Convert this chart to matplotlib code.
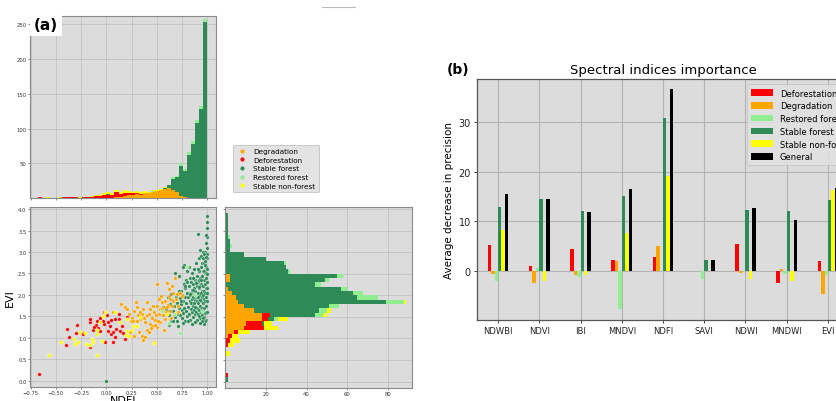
import numpy as np
import matplotlib
matplotlib.use("Agg")
import matplotlib.pyplot as plt
from matplotlib.lines import Line2D
from matplotlib.patches import Patch

# ---------------- Panel (b) data ----------------
categories = ['NDWBI', 'NDVI', 'IBI', 'MNDVI', 'NDFI', 'SAVI', 'NDWI', 'MNDWI', 'EVI']
deforestation = [5.2, 1.0, 4.4, 2.3, 2.8, 0.0, 5.5, -2.3, 2.1]
degradation = [-0.5, -2.3, -0.8, 2.1, 5.0, 0.0, -0.3, 0.5, -4.5]
restored = [-2.0, 0.7, -1.1, -7.5, 0.0, -1.5, 0.0, -0.5, -0.8]
stable_forest = [12.9, 14.6, 12.0, 15.1, 30.8, 2.3, 12.2, 12.0, 14.4]
stable_nonforest = [8.2, -2.0, -0.7, 7.7, 19.1, 0.0, -1.5, -2.0, 16.4]
general = [15.6, 14.5, 11.9, 16.5, 36.5, 2.3, 12.7, 10.3, 16.7]

# ---------------- Panel (a) data ----------------
class_names = ['Degradation', 'Deforestation', 'Stable forest', 'Restored forest', 'Stable non-forest']
class_colors = ['#ffa500', '#ff0000', '#2e8b57', '#90ee90', '#ffff00']

# NDFI histogram (bins of 0.04 from -0.68 to 1.00), counts per class
ndfi_bin_centers = [-0.66, -0.62, -0.58, -0.54, -0.50, -0.46, -0.42, -0.38, -0.34, -0.30,
                    -0.26, -0.22, -0.18, -0.14, -0.10, -0.06, -0.02, 0.02, 0.06, 0.10,
                    0.14, 0.18, 0.22, 0.26, 0.30, 0.34, 0.38, 0.42, 0.46, 0.50,
                    0.54, 0.58, 0.62, 0.66, 0.70, 0.74, 0.78, 0.82, 0.86, 0.90,
                    0.94, 0.98]
ndfi_degradation = [0, 0, 0, 0, 0, 0, 0, 0, 0, 0,
                    0, 0, 0, 0, 0, 0, 0, 0, 0, 1,
                    2, 3, 4, 5, 6, 5, 7, 7, 9, 10,
                    11, 13, 14, 12, 8, 3, 1, 0, 0, 0,
                    0, 0]
ndfi_deforestation = [1, 0, 0, 0, 0, 0, 2, 1, 1, 2,
                      0, 1, 2, 2, 3, 3, 4, 5, 4, 8,
                      4, 4, 3, 2, 1, 1, 0, 0, 0, 0,
                      0, 0, 0, 0, 0, 0, 0, 0, 0, 0,
                      0, 0]
ndfi_stable_forest = [0, 0, 0, 0, 0, 0, 0, 0, 0, 0,
                      0, 0, 0, 0, 0, 0, 0, 1, 0, 0,
                      0, 0, 0, 0, 0, 0, 0, 0, 0, 0,
                      1, 2, 4, 16, 22, 43, 38, 62, 78, 108,
                      128, 254]
ndfi_restored = [0, 0, 0, 0, 0, 0, 0, 0, 0, 0,
                 0, 0, 0, 0, 0, 0, 0, 0, 0, 0,
                 0, 0, 0, 0, 0, 0, 0, 0, 1, 0,
                 0, 0, 1, 2, 2, 4, 3, 4, 4, 5,
                 5, 4]
ndfi_stable_nonforest = [0, 0, 1, 0, 0, 1, 0, 0, 1, 0,
                         1, 0, 0, 1, 2, 2, 3, 2, 3, 2,
                         3, 4, 3, 2, 3, 2, 3, 2, 1, 2,
                         1, 1, 0, 0, 0, 0, 0, 0, 0, 0,
                         0, 0]

# EVI histogram (bins of 0.1 from 0.0 to 3.9), counts per class
evi_bin_centers = [0.05, 0.15, 0.25, 0.35, 0.45, 0.55, 0.65, 0.75, 0.85, 0.95,
                   1.05, 1.15, 1.25, 1.35, 1.45, 1.55, 1.65, 1.75, 1.85, 1.95,
                   2.05, 2.15, 2.25, 2.35, 2.45, 2.55, 2.65, 2.75, 2.85, 2.95,
                   3.05, 3.15, 3.25, 3.35, 3.45, 3.55, 3.65, 3.75, 3.85]
evi_degradation = [0, 0, 0, 0, 0, 0, 0, 0, 0, 0,
                   1, 4, 9, 10, 18, 18, 14, 9, 6, 5,
                   3, 1, 0, 2, 2, 0, 0, 0, 0, 0,
                   0, 0, 0, 0, 0, 0, 0, 0, 0]
evi_deforestation = [0, 1, 0, 0, 0, 0, 0, 0, 1, 2,
                     2, 2, 10, 8, 3, 4, 0, 0, 0, 0,
                     0, 0, 0, 0, 0, 0, 0, 0, 0, 0,
                     0, 0, 0, 0, 0, 0, 0, 0, 0]
evi_stable_forest = [1, 0, 0, 0, 0, 0, 0, 0, 0, 0,
                     0, 0, 0, 1, 3, 22, 32, 42, 73, 60,
                     60, 56, 44, 47, 53, 31, 30, 29, 20, 9,
                     2, 2, 2, 1, 1, 1, 1, 1, 1]
evi_restored = [0, 0, 0, 0, 0, 0, 0, 0, 0, 0,
                0, 0, 0, 0, 2, 4, 4, 5, 9, 10,
                5, 3, 3, 2, 3, 1, 0, 1, 0, 0,
                0, 1, 0, 1, 0, 0, 0, 0, 0]
evi_stable_nonforest = [0, 0, 0, 0, 0, 0, 2, 0, 3, 5,
                        3, 6, 7, 4, 5, 2, 2, 0, 1, 0,
                        0, 0, 0, 0, 0, 0, 0, 0, 0, 0,
                        0, 0, 0, 0, 0, 0, 0, 0, 0]

# Scatter points (NDFI, EVI) per class
deg_x = [0.07, 0.18, 0.22, 0.25, 0.27, 0.29, 0.30, 0.31, 0.33, 0.35, 0.36, 0.38, 0.40, 0.40,
         0.42, 0.43, 0.45, 0.45, 0.47, 0.47, 0.48, 0.50, 0.50, 0.52, 0.52, 0.53, 0.53, 0.54,
         0.55, 0.56, 0.57, 0.57, 0.58, 0.59, 0.60, 0.61, 0.62, 0.63, 0.63, 0.64, 0.65, 0.66,
         0.66, 0.67, 0.68, 0.69, 0.70, 0.71, 0.73, 0.75, 0.71, 0.14, 0.20, 0.24, 0.32, 0.35,
         0.36, 0.38, 0.43, 0.46, 0.49, 0.51, 0.55, 0.58, 0.62, 0.65, 0.50, 0.40, 0.33, 0.42,
         0.26, 0.23, 0.27, 0.44, 0.37, 0.30, 0.48, 0.56, 0.60]
deg_y = [1.59, 1.71, 1.55, 1.47, 1.63, 1.83, 1.71, 1.53, 1.44, 1.55, 1.67, 1.36, 1.52, 1.17,
         1.13, 1.32, 1.28, 1.47, 0.90, 1.59, 1.42, 1.75, 1.24, 1.90, 1.55, 1.36, 1.67, 1.98,
         1.83, 1.52, 1.71, 1.17, 1.86, 1.59, 2.28, 1.77, 1.98, 1.63, 1.90, 1.47, 1.75, 2.05,
         1.86, 1.55, 2.39, 1.90, 2.01, 1.75, 2.04, 1.98, 1.59, 1.78, 1.67, 1.40, 1.13, 1.05,
         0.94, 1.01, 1.67, 1.75, 1.52, 1.40, 1.67, 1.44, 2.13, 2.21, 2.25, 1.83, 1.59, 1.55,
         1.40, 1.13, 1.05, 1.22, 1.46, 1.38, 1.30, 1.62, 1.72]

def_x = [-0.67, -0.39, -0.40, -0.37, -0.29, -0.30, -0.24, -0.23, -0.16, -0.16, -0.13, -0.10,
         -0.08, -0.06, -0.02, -0.02, -0.01, 0.01, 0.02, 0.04, 0.05, 0.07, 0.09, 0.10, 0.12,
         0.13, 0.15, 0.18, 0.20, 0.22, 0.02, -0.03, -0.06, 0.07, 0.12, 0.25, -0.09, -0.16,
         0.05, 0.16, -0.12, 0.09]
def_y = [0.16, 1.20, 0.82, 1.01, 1.30, 1.12, 1.11, 1.09, 1.36, 0.78, 1.18, 1.30,
         1.22, 1.15, 1.33, 1.59, 0.89, 1.52, 1.36, 1.28, 1.09, 0.89, 1.44, 1.20, 1.44,
         1.16, 1.28, 0.97, 1.48, 1.05, 1.16, 1.40, 1.47, 1.14, 1.55, 1.17, 1.40, 1.44,
         1.42, 1.10, 1.25, 1.02]

snf_x = [-0.57, -0.45, -0.32, -0.31, -0.28, -0.20, -0.16, -0.13, -0.09, -0.09, -0.14, -0.06,
         -0.04, -0.01, 0.09, -0.09, -0.21, 0.19, 0.22, 0.25, 0.20, 0.13, 0.47, -0.03, 0.20,
         0.30, 0.26, 0.33, 0.60, -0.26]
snf_y = [0.60, 0.89, 0.97, 0.86, 0.90, 0.86, 0.82, 0.90, 0.60, 1.09, 0.98, 1.36,
         0.93, 1.61, 1.59, 1.17, 1.12, 1.07, 1.05, 1.18, 1.16, 1.36, 0.88, 1.51, 1.44,
         1.28, 1.28, 1.48, 1.55, 1.14]

rf_x = [0.73, 0.55, 0.68, 0.80, 0.88, 0.95, 0.62]
rf_y = [1.12, 1.62, 1.55, 2.65, 2.00, 1.62, 1.35]

sf_x = [0.00,
        0.56, 0.58, 0.60, 0.61, 0.62, 0.63, 0.64, 0.65, 0.59, 0.62, 0.64, 0.66, 0.67, 0.68, 0.69,
        0.70, 0.70, 0.71, 0.72, 0.72, 0.73, 0.73, 0.74, 0.74, 0.75, 0.75, 0.75, 0.71, 0.72,
        0.76, 0.76, 0.77, 0.77, 0.78, 0.78, 0.78, 0.79, 0.79, 0.80, 0.80, 0.80, 0.77, 0.79, 0.76,
        0.81, 0.81, 0.82, 0.82, 0.82, 0.83, 0.83, 0.83, 0.84, 0.84, 0.84, 0.85, 0.85, 0.85, 0.85,
        0.81, 0.83, 0.84,
        0.86, 0.86, 0.86, 0.87, 0.87, 0.87, 0.88, 0.88, 0.88, 0.88, 0.89, 0.89, 0.89, 0.90, 0.90,
        0.90, 0.90, 0.86, 0.87, 0.88, 0.89, 0.90, 0.86, 0.89, 0.87,
        0.91, 0.91, 0.91, 0.91, 0.92, 0.92, 0.92, 0.92, 0.93, 0.93, 0.93, 0.93, 0.94, 0.94, 0.94,
        0.94, 0.95, 0.95, 0.95, 0.95, 0.92, 0.93, 0.94, 0.91, 0.95, 0.92, 0.93, 0.94, 0.91, 0.95,
        0.92, 0.93, 0.91,
        0.96, 0.96, 0.96, 0.96, 0.96, 0.97, 0.97, 0.97, 0.97, 0.97, 0.98, 0.98, 0.98, 0.98, 0.98,
        0.98, 0.99, 0.99, 0.99, 0.99, 0.99, 0.99, 1.00, 1.00, 1.00, 1.00, 1.00, 1.00, 1.00, 1.00,
        1.00, 1.00, 1.00, 0.99, 0.98, 0.97, 0.96, 0.96, 0.76, 0.68, 0.87, 0.97, 0.99, 1.00,
        0.98, 0.97, 0.99, 1.00, 0.96, 0.95, 0.93, 0.90, 0.88, 0.85, 0.97, 0.98, 0.99, 1.00,
        0.94, 0.92, 0.89, 0.86, 0.83, 0.80, 0.78, 0.74, 0.70, 0.66]
sf_y = [0.00,
        1.72, 1.85, 1.62, 1.95, 1.52, 1.78, 1.40, 1.88, 1.68, 1.30, 2.02, 1.62, 1.74, 1.48, 1.95,
        1.38, 1.82, 1.60, 2.45, 1.70, 1.92, 1.52, 2.10, 1.78, 1.45, 1.65, 2.00, 1.28, 2.08,
        1.58, 1.85, 2.25, 1.70, 1.40, 1.95, 2.15, 1.62, 1.80, 2.05, 1.50, 2.55, 2.70, 2.35, 1.35,
        1.72, 1.95, 2.20, 1.55, 2.65, 1.85, 2.40, 1.42, 2.05, 1.68, 2.30, 1.90, 1.60, 2.50, 2.12,
        1.38, 2.00, 1.80,
        1.75, 2.25, 1.48, 2.00, 2.60, 1.65, 1.88, 2.35, 2.10, 1.55, 2.75, 1.95, 1.40, 2.20, 1.70,
        2.45, 1.85, 1.95, 2.15, 1.72, 2.30, 2.00, 2.40, 1.60, 1.82,
        1.80, 2.30, 1.55, 2.05, 2.55, 1.90, 1.65, 2.15, 2.40, 1.75, 2.00, 1.45, 2.65, 2.25, 1.85,
        1.60, 2.10, 2.45, 1.95, 1.70, 2.85, 3.05, 2.90, 2.60, 2.75, 1.50, 2.20, 2.05, 1.95, 1.52,
        2.35, 1.88, 3.42,
        1.80, 2.20, 2.55, 1.62, 2.00, 2.35, 1.90, 2.75, 1.70, 2.10, 2.50, 1.85, 2.25, 3.00, 1.58,
        2.05, 2.65, 2.15, 1.95, 2.40, 3.20, 1.75, 2.30, 2.60, 2.85, 3.10, 3.35, 3.55, 3.70, 3.85,
        2.05, 1.85, 2.95, 3.40, 2.80, 2.55, 2.85, 3.00, 2.64, 2.52, 2.61, 1.48, 1.42, 1.60,
        1.38, 1.32, 2.50, 2.15, 1.45, 1.40, 1.35, 1.42, 1.36, 1.32, 2.95, 2.70, 2.88, 2.48,
        2.35, 2.18, 2.28, 2.12, 2.02, 2.30, 2.20, 1.85, 1.55, 1.40]

# ---------------- Figure ----------------
W, H = 837, 402
fig = plt.figure(figsize=(W / 100, H / 100), dpi=100)
bg = '#dcdcdc'
gridc = '#c2c2c2'
spc = '#8a8a8a'

def fax(l, t, r, b):
    return [l / W, 1 - b / H, (r - l) / W, (b - t) / H]

def style(ax):
    ax.set_facecolor(bg)
    ax.grid(True, color=gridc, lw=0.6)
    ax.set_axisbelow(True)
    for s in ax.spines.values():
        s.set_color(spc)
        s.set_linewidth(0.8)
    ax.tick_params(labelsize=3.8, length=1.5, width=0.4, pad=1, colors='#333333')

# scatter
ax_sc = fig.add_axes(fax(30, 208, 216, 388))
style(ax_sc)
sc_kw = dict(s=7, edgecolors='white', linewidths=0.25)
ax_sc.scatter(sf_x, sf_y, color=class_colors[2], zorder=3, **sc_kw)
ax_sc.scatter(deg_x, deg_y, color=class_colors[0], zorder=3, **sc_kw)
ax_sc.scatter(def_x, def_y, color=class_colors[1], zorder=3, **sc_kw)
ax_sc.scatter(rf_x, rf_y, color=class_colors[3], zorder=3, **sc_kw)
ax_sc.scatter(snf_x, snf_y, color=class_colors[4], zorder=3, **sc_kw)
ax_sc.set_xlim(-0.757, 1.086)
ax_sc.set_ylim(-0.15, 4.05)
ax_sc.set_xticks([-0.75, -0.5, -0.25, 0.0, 0.25, 0.5, 0.75, 1.0])
ax_sc.set_xticklabels(['\u22120.75', '\u22120.50', '\u22120.25', '0.00', '0.25', '0.50', '0.75', '1.00'])
ax_sc.set_yticks([0.0, 0.5, 1.0, 1.5, 2.0, 2.5, 3.0, 3.5, 4.0])
ax_sc.set_ylabel('EVI', fontsize=8, labelpad=2)
ax_sc.set_xlabel('NDFI', fontsize=8, labelpad=0)

# top histogram
ax_top = fig.add_axes(fax(30, 17, 216, 199))
style(ax_top)
hist_top = [ndfi_degradation, ndfi_deforestation, ndfi_stable_forest, ndfi_restored, ndfi_stable_nonforest]
bottom = np.zeros(len(ndfi_bin_centers))
for counts, col in zip(hist_top, class_colors):
    ax_top.bar(ndfi_bin_centers, counts, width=0.04, bottom=bottom, color=col, linewidth=0, zorder=2)
    bottom = bottom + np.array(counts)
ax_top.set_xlim(-0.757, 1.086)
ax_top.set_ylim(0, 262)
ax_top.set_xticks([-0.75, -0.5, -0.25, 0.0, 0.25, 0.5, 0.75, 1.0])
ax_top.set_yticks([50, 100, 150, 200, 250])
ax_top.tick_params(labelbottom=False)

# right histogram
ax_rt = fig.add_axes(fax(225.5, 208, 412, 389))
style(ax_rt)
hist_rt = [evi_degradation, evi_deforestation, evi_stable_forest, evi_restored, evi_stable_nonforest]
left = np.zeros(len(evi_bin_centers))
for counts, col in zip(hist_rt, class_colors):
    ax_rt.barh(evi_bin_centers, counts, height=0.1, left=left, color=col, linewidth=0, zorder=2)
    left = left + np.array(counts)
ax_rt.set_xlim(0, 92)
ax_rt.set_ylim(-0.15, 4.05)
ax_rt.set_xticks([20, 40, 60, 80])
ax_rt.set_yticks([0.0, 0.5, 1.0, 1.5, 2.0, 2.5, 3.0, 3.5, 4.0])
ax_rt.tick_params(labelleft=False)

# legend (a)
handles_a = [Line2D([0], [0], marker='o', linestyle='', markersize=3,
                    markerfacecolor=c, markeredgecolor='none') for c in class_colors]
leg_a = fig.legend(handles_a, class_names, loc='upper left',
                   bbox_to_anchor=(229 / W, 1 - 142 / H), fontsize=5.2,
                   frameon=True, fancybox=True, borderpad=0.5, labelspacing=0.35,
                   handletextpad=0.8, handlelength=1.5)
leg_a.get_frame().set_facecolor('#dcdcdc')
leg_a.get_frame().set_edgecolor('#aaaaaa')
leg_a.get_frame().set_linewidth(0.5)

# (a) label
fig.text(34 / W, 1 - 26 / H, '(a)', fontsize=11, fontweight='bold', va='center', ha='left',
         bbox=dict(facecolor='white', edgecolor='none', pad=2.5))

# small grey line at top
fig.add_artist(Line2D([322 / W, 355 / W], [1 - 8 / H, 1 - 8 / H], color='#bbbbbb', lw=0.8))

# ---------------- Panel (b) ----------------
ax_b = fig.add_axes(fax(477, 80, 849, 321))
ax_b.set_facecolor(bg)
ax_b.grid(True, color='#b4b4b4', lw=0.8)
ax_b.set_axisbelow(True)
for s in ax_b.spines.values():
    s.set_color('#555555')
    s.set_linewidth(0.9)

x = np.arange(len(categories))
w = 0.083
series = [deforestation, degradation, restored, stable_forest, stable_nonforest, general]
names_b = ['Deforestation', 'Degradation', 'Restored forest', 'Stable forest', 'Stable non-forest', 'General']
colors_b = ['#ff0000', '#ffa500', '#90ee90', '#2e8b57', '#ffff00', '#000000']
for k, (vals, col, nm) in enumerate(zip(series, colors_b, names_b)):
    ax_b.bar(x + (k - 3) * w, vals, width=w, align='edge', color=col, label=nm, linewidth=0, zorder=2)

ax_b.set_xlim(-0.51, len(categories) - 0.49)
ax_b.set_ylim(-9.8, 38.6)
ax_b.set_xticks(x)
ax_b.set_xticklabels(categories)
ax_b.set_yticks([0, 10, 20, 30])
ax_b.tick_params(axis='x', labelsize=6, length=2.5, width=0.6, pad=2, colors='#222222')
ax_b.tick_params(axis='y', labelsize=7, length=2.5, width=0.6, pad=2, colors='#222222')
ax_b.set_ylabel('Average decrease in precision', fontsize=7.5, labelpad=3)
ax_b.set_title('Spectral indices importance', fontsize=9.5, pad=4)

leg_b = ax_b.legend(loc='upper left', bbox_to_anchor=(0.715, 0.995), fontsize=6,
                    frameon=True, fancybox=True, borderpad=0.5, labelspacing=0.45,
                    handlelength=2.6, handleheight=0.8, handletextpad=0.8)
leg_b.get_frame().set_facecolor('#e2e2e2')
leg_b.get_frame().set_edgecolor('#bbbbbb')
leg_b.get_frame().set_linewidth(0.5)

fig.text(447 / W, 1 - 70 / H, '(b)', fontsize=10, fontweight='bold', va='center', ha='left')

fig.savefig('out.png', dpi=100)
